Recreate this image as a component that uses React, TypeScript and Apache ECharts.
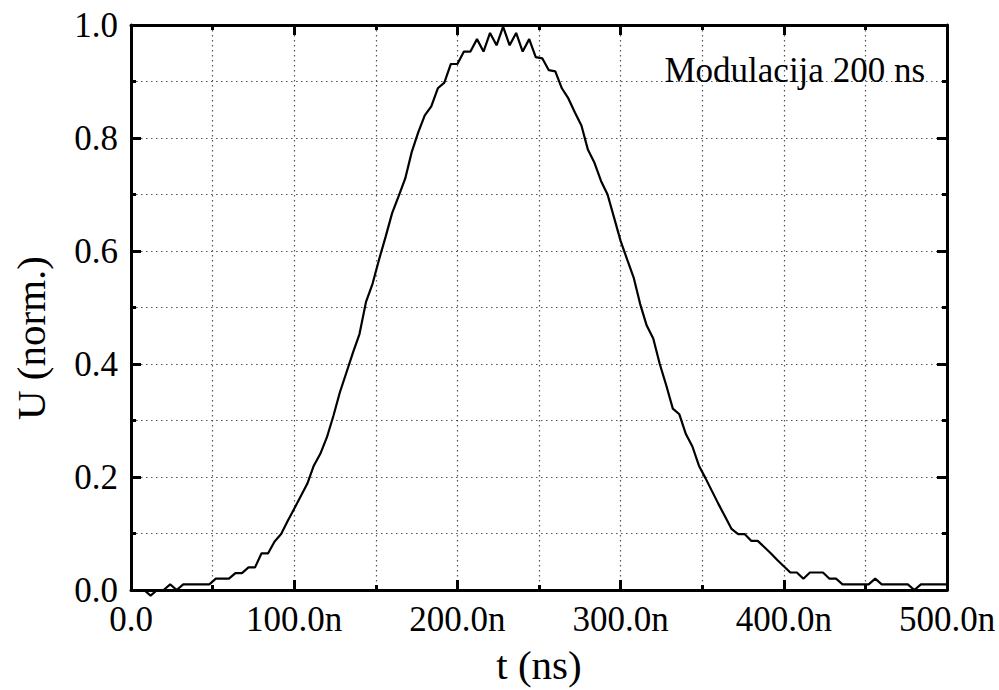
import React, { useEffect, useRef } from "react";
import * as echarts from "echarts";

// Sampling step of the recorded waveform (ns)
const sampleStepNs = 4;

// Normalised amplitude U, one value per sample from 0 ns to 500 ns
const voltage = [
  0, 0, 0, -0.01, 0, 0, 0.01, 0, 0.01, 0.01,
  0.01, 0.01, 0.01, 0.02, 0.02, 0.02, 0.03, 0.03, 0.04, 0.04,
  0.065, 0.065, 0.086, 0.099, 0.122, 0.144, 0.166, 0.188, 0.22, 0.241,
  0.27, 0.308, 0.35, 0.385, 0.42, 0.453, 0.51, 0.542, 0.585, 0.625,
  0.667, 0.697, 0.728, 0.775, 0.81, 0.84, 0.856, 0.888, 0.898, 0.931,
  0.931, 0.953, 0.953, 0.975, 0.953, 0.986, 0.964, 0.997, 0.964, 0.986,
  0.953, 0.975, 0.943, 0.941, 0.92, 0.918, 0.888, 0.87, 0.845, 0.822,
  0.779, 0.756, 0.724, 0.7, 0.659, 0.618, 0.585, 0.553, 0.506, 0.468,
  0.445, 0.4, 0.362, 0.321, 0.311, 0.276, 0.254, 0.22, 0.198, 0.175,
  0.152, 0.13, 0.108, 0.099, 0.099, 0.087, 0.087, 0.076, 0.065, 0.053,
  0.042, 0.031, 0.031, 0.02, 0.031, 0.031, 0.031, 0.02, 0.02, 0.01,
  0.01, 0.01, 0.01, 0.01, 0.02, 0.01, 0.01, 0.01, 0.01, 0.01,
  0, 0.01, 0.01, 0.01, 0.01, 0.01,
];

const xMin = 0;
const xMax = 500;
const xMajor = 100;
const xMinor = 50;
const yMin = 0;
const yMax = 1;
const yMajor = 0.2;
const yMinor = 0.1;

const xTitle = "t (ns)";
const yTitle = "U (norm.)";
const annotation = "Modulacija 200 ns";

const FONT = "Liberation Serif";

export default function App() {
  const ref = useRef<HTMLDivElement>(null);

  useEffect(() => {
    if (!ref.current) return;
    const chart = echarts.init(ref.current, undefined, { renderer: "svg" });
    const data = voltage.map((v, i) => [i * sampleStepNs, v]);

    const axisLine = { show: true, onZero: false, lineStyle: { color: "#000", width: 3 } };
    const noLine = { show: false, onZero: false };
    const longTick = { show: true, inside: true, length: 10, lineStyle: { color: "#000", width: 3 } };
    const shortTick = { show: true, inside: true, length: 5, lineStyle: { color: "#000", width: 3 } };
    const dotted = { color: "#555", width: 1.2, type: [1.5, 3.5] as any };
    const hidden = { show: false };

    const xAx = (position: "top" | "bottom", interval: number, extra: any) => ({
      type: "value" as const,
      min: xMin,
      max: xMax,
      interval,
      position,
      axisLabel: hidden,
      splitLine: hidden,
      ...extra,
    });
    const yAx = (position: "left" | "right", interval: number, extra: any) => ({
      type: "value" as const,
      min: yMin,
      max: yMax,
      interval,
      position,
      axisLabel: hidden,
      splitLine: hidden,
      ...extra,
    });

    chart.setOption({
      animation: false,
      backgroundColor: "#fff",
      grid: { left: 131, right: 52, top: 25, bottom: 97, containLabel: false },
      xAxis: [
        xAx("bottom", xMinor, {
          axisLine,
          axisTick: shortTick,
          name: xTitle,
          nameLocation: "middle",
          nameGap: 54,
          nameTextStyle: { fontFamily: FONT, fontSize: 41, color: "#000" },
          axisLabel: {
            show: true,
            margin: 12,
            fontFamily: FONT,
            fontSize: 35,
            color: "#000",
            formatter: (v: number) =>
              v % xMajor !== 0 ? "" : v === 0 ? "0.0" : `${v.toFixed(1)}n`,
          },
          splitLine: { show: true, lineStyle: dotted },
        }),
        xAx("bottom", xMajor, { axisLine: noLine, axisTick: longTick }),
        xAx("top", xMinor, { axisLine, axisTick: shortTick }),
        xAx("top", xMajor, { axisLine: noLine, axisTick: longTick }),
      ],
      yAxis: [
        yAx("left", yMinor, {
          axisLine,
          axisTick: shortTick,
          axisLabel: {
            show: true,
            margin: 13,
            fontFamily: FONT,
            fontSize: 35,
            color: "#000",
            formatter: (v: number) =>
              Math.round(v * 10) % 2 !== 0 ? "" : v.toFixed(1),
          },
          splitLine: { show: true, lineStyle: dotted },
        }),
        yAx("left", yMajor, { axisLine: noLine, axisTick: longTick }),
        yAx("right", yMinor, { axisLine, axisTick: shortTick }),
        yAx("right", yMajor, { axisLine: noLine, axisTick: longTick }),
      ],
      graphic: [
        {
          type: "text",
          x: 31,
          y: 338,
          rotation: Math.PI / 2,
          z: 10,
          style: {
            text: yTitle,
            fontFamily: FONT,
            fontSize: 41,
            fill: "#000",
            align: "center",
            verticalAlign: "middle",
          },
        },
        {
          type: "text",
          right: 74,
          top: 53,
          z: 10,
          style: {
            text: annotation,
            fontFamily: FONT,
            fontSize: 35,
            fill: "#000",
          },
        },
      ],
      series: [
        {
          type: "line",
          data,
          xAxisIndex: 0,
          yAxisIndex: 0,
          showSymbol: false,
          symbol: "none",
          clip: false,
          lineStyle: { color: "#000", width: 2.2 },
          z: 5,
        },
      ],
    });

    return () => chart.dispose();
  }, []);

  return (
    <div
      ref={ref}
      style={{ position: "fixed", left: 0, top: 0, width: 999, height: 690 }}
    />
  );
}
